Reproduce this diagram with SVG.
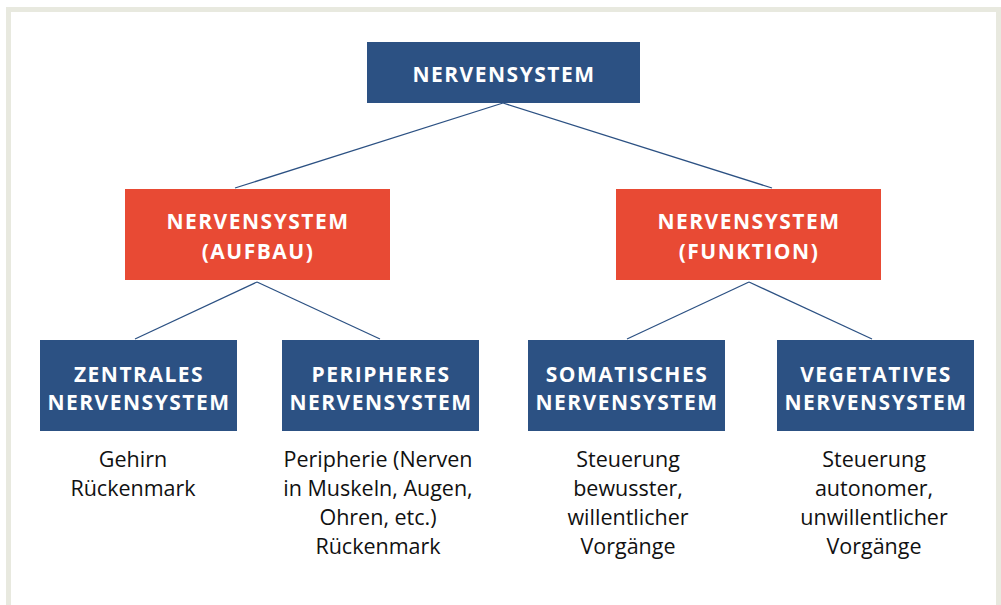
<svg xmlns="http://www.w3.org/2000/svg" width="1001" height="605" viewBox="0 0 1001 605">
<style>
.frame{fill:none;stroke:#e8e9df;stroke-width:5}
.blue{fill:#2c5183}
.red{fill:#e84a34}
.t{font-family:"Open Sans","Noto Sans",sans-serif;font-weight:bold;font-size:21px;fill:#ffffff;letter-spacing:1.5px;text-anchor:middle}
.d{font-family:"Open Sans","Noto Sans",sans-serif;font-size:21.5px;fill:#111111;text-anchor:middle}
.c line{stroke:#2c5183;stroke-width:1.3}
</style>
<rect x="0" y="0" width="1001" height="605" fill="#ffffff"/>
<path class="frame" d="M8.5,605 V9.5 H998.5 V605"/>
<g class="c" id="connectors">
<line x1="503" y1="103" x2="235" y2="188"/>
<line x1="503" y1="103" x2="772" y2="188"/>
<line x1="257" y1="282" x2="135" y2="339"/>
<line x1="257" y1="282" x2="380" y2="339"/>
<line x1="749" y1="282" x2="627" y2="339"/>
<line x1="749" y1="282" x2="872" y2="339"/>
</g>
<g id="nervensystem">
<rect class="blue" x="367" y="42" width="273" height="61"/>
<text class="t" x="504" y="82">NERVENSYSTEM</text>
</g>
<g id="aufbau">
<rect class="red" x="125" y="189" width="265" height="91"/>
<text class="t" x="258" y="229">NERVENSYSTEM</text>
<text class="t" x="258" y="259">(AUFBAU)</text>
</g>
<g id="funktion">
<rect class="red" x="616" y="189" width="265" height="91"/>
<text class="t" x="749" y="229">NERVENSYSTEM</text>
<text class="t" x="749" y="259">(FUNKTION)</text>
</g>
<g id="zentrales">
<rect class="blue" x="40" y="340" width="197" height="91"/>
<text class="t" x="139" y="382">ZENTRALES</text>
<text class="t" x="139" y="410">NERVENSYSTEM</text>
<text class="d" x="133" y="467">Gehirn</text>
<text class="d" x="133" y="496">Rückenmark</text>
</g>
<g id="peripheres">
<rect class="blue" x="282" y="340" width="197" height="91"/>
<text class="t" x="381" y="382">PERIPHERES</text>
<text class="t" x="381" y="410">NERVENSYSTEM</text>
<text class="d" x="378" y="467">Peripherie (Nerven</text>
<text class="d" x="378" y="496">in Muskeln, Augen,</text>
<text class="d" x="378" y="525">Ohren, etc.)</text>
<text class="d" x="378" y="554">Rückenmark</text>
</g>
<g id="somatisches">
<rect class="blue" x="528" y="340" width="197" height="91"/>
<text class="t" x="627" y="382">SOMATISCHES</text>
<text class="t" x="627" y="410">NERVENSYSTEM</text>
<text class="d" x="628" y="467">Steuerung</text>
<text class="d" x="628" y="496">bewusster,</text>
<text class="d" x="628" y="525">willentlicher</text>
<text class="d" x="628" y="554">Vorgänge</text>
</g>
<g id="vegetatives">
<rect class="blue" x="777" y="340" width="197" height="91"/>
<text class="t" x="876" y="382">VEGETATIVES</text>
<text class="t" x="876" y="410">NERVENSYSTEM</text>
<text class="d" x="874" y="467">Steuerung</text>
<text class="d" x="874" y="496">autonomer,</text>
<text class="d" x="874" y="525">unwillentlicher</text>
<text class="d" x="874" y="554">Vorgänge</text>
</g>
</svg>
